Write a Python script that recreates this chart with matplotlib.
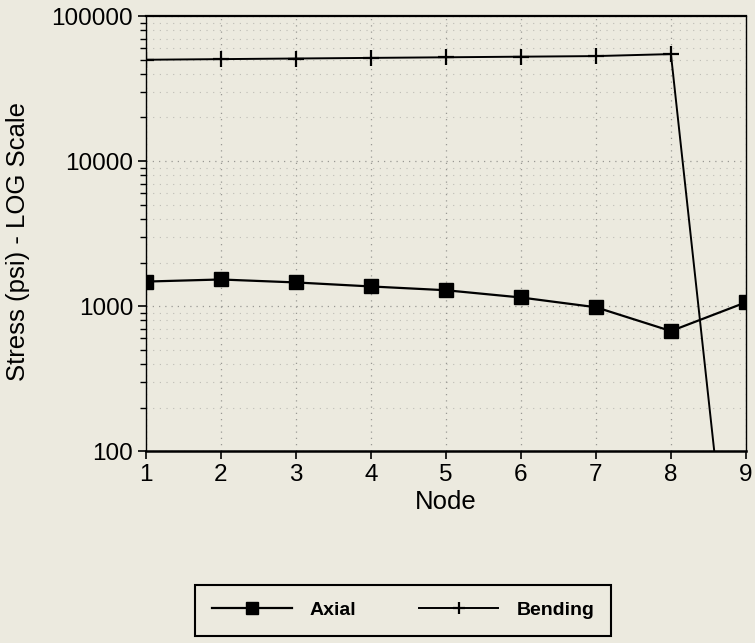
import matplotlib
matplotlib.use("Agg")
import matplotlib.pyplot as plt
from matplotlib.ticker import LogLocator, NullFormatter, FixedLocator

# Stress along the member, by node
nodes = [1, 2, 3, 4, 5, 6, 7, 8, 9]
axial = [1480, 1530, 1460, 1370, 1290, 1150, 985, 675, 1065]
bending = [50000, 50500, 51000, 51500, 52000, 52500, 53000, 54700, 1.0]
y_ticks = [100, 1000, 10000, 100000]
y_tick_labels = ["100", "1000", "10000", "100000"]

bg = "#eceadf"
plt.rcParams["font.family"] = ["Liberation Sans", "DejaVu Sans"]

fig = plt.figure(figsize=(7.55, 6.43), dpi=100, facecolor=bg)
ax = fig.add_axes([0.193, 0.298, 0.795, 0.677], facecolor=bg)

ax.set_yscale("log")
ax.set_xlim(1, 9)
ax.set_ylim(100, 100000)

# faint dotted grid
ax.yaxis.set_minor_locator(LogLocator(base=10, subs=range(2, 10)))
ax.yaxis.set_minor_formatter(NullFormatter())
ax.grid(True, which="major", axis="both", linestyle=(0, (1, 4)),
        color="#555555", linewidth=0.9, alpha=0.55)
ax.grid(True, which="minor", axis="y", linestyle=(0, (1, 5)),
        color="#666666", linewidth=0.8, alpha=0.35)

ax.plot(nodes, axial, color="black", linewidth=1.6, marker="s",
        markersize=10, markerfacecolor="black", label="Axial", clip_on=True)
ax.plot(nodes, bending, color="black", linewidth=1.4, marker="+",
        markersize=11, markeredgewidth=1.6, label="Bending", clip_on=True)

ax.xaxis.set_major_locator(FixedLocator(nodes))
ax.set_xticklabels([str(n) for n in nodes])
ax.yaxis.set_major_locator(FixedLocator(y_ticks))
ax.set_yticklabels(y_tick_labels)

ax.tick_params(axis="both", which="major", labelsize=17.5, direction="out",
               length=6, width=1.2, colors="black", pad=3)
ax.tick_params(axis="y", which="minor", direction="out", length=4, width=1.0)

for side in ["left", "right", "top", "bottom"]:
    ax.spines[side].set_color("black")
ax.spines["left"].set_linewidth(1.0)
ax.spines["right"].set_linewidth(1.0)
ax.spines["top"].set_linewidth(1.6)
ax.spines["bottom"].set_linewidth(1.8)

ax.set_xlabel("Node", fontsize=18.5, labelpad=3)
ax.set_ylabel("Stress (psi) - LOG Scale", fontsize=18.5)
ax.yaxis.set_label_coords(-0.193, 0.483)

leg = fig.legend(loc="center", bbox_to_anchor=(0.534, 0.051), ncol=2,
                 frameon=True, fancybox=False, edgecolor="black",
                 facecolor=bg, framealpha=1, handlelength=4.1,
                 columnspacing=3.2, handletextpad=0.93, borderpad=0.85,
                 prop={"size": 14, "weight": "bold"})
leg.get_frame().set_linewidth(1.5)
for h in leg.legend_handles:
    h.set_markersize(8)

fig.savefig("out.png", dpi=100, facecolor=bg)
